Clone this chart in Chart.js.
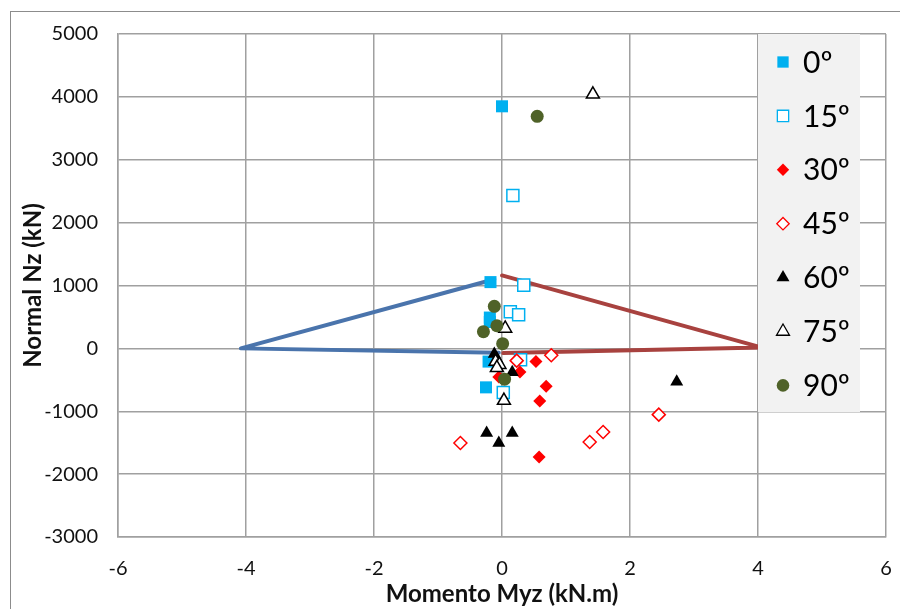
<!DOCTYPE html>
<html>
<head>
<meta charset="utf-8">
<script src="https://cdn.jsdelivr.net/npm/chart.js@4"></script>
<style>
  html, body { margin: 0; padding: 0; background: #fff; overflow: hidden; }
  canvas { display: block; }
</style>
</head>
<body>
<canvas id="chart" width="900" height="609"></canvas>
<script>
// Valores (Myz em kN.m, Nz em kN)

const labels = ['0º', '15º', '30º', '45º', '60º', '75º', '90º']

const s0 = [[0.0, 3850], [-0.18, 1054], [-0.19, 490], [-0.19, 420], [-0.21, -210], [-0.25, -620]]
const s15 = [[0.17, 2430], [0.34, 1006], [0.13, 583], [0.26, 535], [0.29, -180], [0.02, -700]]
const s30 = [[0.53, -210], [0.28, -376], [-0.05, -456], [0.69, -604], [0.59, -837], [0.58, -1728]]
const s45 = [[0.23, -195], [0.77, -110], [-0.65, -1505], [1.37, -1489], [1.58, -1330], [2.45, -1054]]
const s60 = [[-0.12, -90], [-0.08, -170], [0.16, -380], [2.73, -530], [-0.24, -1346], [0.16, -1346], [-0.05, -1505]]
const s75 = [[1.42, 4040], [0.05, 318], [-0.1, -210], [-0.04, -260], [-0.08, -310], [0.03, -830]]
const s90 = [[0.55, 3690], [-0.12, 668], [-0.08, 360], [-0.29, 265], [0.01, 75], [0.04, -490]]

// Envoltória (duas linhas)
const envLeft = [[-0.12, 1100], [-4.08, 0], [-0.05, -70]]
const envRight = [[0.0, 1160], [4.05, 15], [0.02, -75]]

const xTicks = [-6, -4, -2, 0, 2, 4, 6]
const yTicks = [-3000, -2000, -1000, 0, 1000, 2000, 3000, 4000, 5000]

const toPts = arr => arr.map(p => ({ x: p[0], y: p[1] }))

// estilo de cada série: [pointStyle, radius, cor, preenchido]
const styles = [
  ['rect', 8.5, '#00B0F0', true],
  ['rect', 8.5, '#00B0F0', false],
  ['rectRot', 6.5, '#FF0000', true],
  ['rectRot', 6.5, '#FF0000', false],
  ['triangle', 7.5, '#000000', true],
  ['triangle', 7.5, '#000000', false],
  ['circle', 6.5, '#4F6228', true],
]
const legendRadius = [8, 8, 6.2, 6.2, 7.5, 7.5, 6.3]

const series = [s0, s15, s30, s45, s60, s75, s90]

const datasets = series.map((s, i) => {
  const st = styles[i]
  return {
    label: labels[i],
    data: toPts(s),
    pointStyle: st[0],
    pointRadius: st[1],
    pointHoverRadius: st[1],
    backgroundColor: st[3] ? st[2] : '#ffffff',
    borderColor: st[2],
    pointBorderWidth: st[3] ? 0 : 1.5,
    showLine: false,
    order: 6 - i,
  }
})

datasets.push({
  label: 'envLeft',
  data: toPts(envLeft),
  showLine: true,
  borderColor: '#4A74AC',
  borderWidth: 4,
  borderJoinStyle: 'round',
  borderCapStyle: 'round',
  pointRadius: 0,
  order: 100,
})
datasets.push({
  label: 'envRight',
  data: toPts(envRight),
  showLine: true,
  borderColor: '#A8423F',
  borderWidth: 4,
  borderJoinStyle: 'round',
  borderCapStyle: 'round',
  pointRadius: 0,
  order: 100,
})

// moldura externa
const frame = {
  id: 'frame',
  beforeDraw(chart) {
    const ctx = chart.ctx
    ctx.save()
    ctx.fillStyle = '#ffffff'
    ctx.fillRect(0, 0, chart.width, chart.height)
    ctx.strokeStyle = '#8c8c8c'
    ctx.lineWidth = 1
    ctx.strokeRect(10.5, 11.5, chart.width + 20, chart.height + 20)
    ctx.restore()
  }
}

// legenda dentro da área do gráfico
const legendBox = {
  id: 'legendBox',
  afterDatasetsDraw(chart) {
    const ctx = chart.ctx
    const area = chart.chartArea
    const left = area.right - 128
    const top = area.top
    ctx.save()
    ctx.fillStyle = '#f2f2f2'
    ctx.fillRect(left, top, 102, 378)
    ctx.font = '30px Lato'
    ctx.textBaseline = 'middle'
    for (let i = 0; i < labels.length; i++) {
      const st = styles[i]
      const y = top + 28 + i * 53.9
      ctx.fillStyle = st[3] ? st[2] : '#ffffff'
      ctx.strokeStyle = st[2]
      ctx.lineWidth = st[3] ? 0 : 1.3
      Chart.helpers.drawPoint(ctx, {
        pointStyle: st[0],
        radius: legendRadius[i],
        rotation: 0,
        borderWidth: st[3] ? 0 : 1.3,
      }, left + 25, y)
      ctx.fillStyle = '#000000'
      ctx.fillText(labels[i], left + 45, y + 1)
    }
    ctx.restore()
  }
}

let ctxChart = document.getElementById('chart')

new Chart(ctxChart, {
  type: 'scatter',
  data: { datasets: datasets },
  plugins: [frame, legendBox],
  options: {
    responsive: false,
    animation: false,
    layout: {
      padding: { left: 0, right: 14, top: 34, bottom: 0 }
    },
    plugins: {
      legend: { display: false },
      tooltip: { enabled: false },
    },
    scales: {
      x: {
        type: 'linear',
        min: -6,
        max: 6,
        afterBuildTicks: scale => { scale.ticks = xTicks.map(v => ({ value: v })) },
        afterFit: scale => {
          scale.height = 72
          scale.paddingLeft = 0
          scale.paddingRight = 0
        },
        grid: { color: '#a0a0a0', lineWidth: 1.5, drawTicks: false },
        border: { color: '#a0a0a0', width: 1.5 },
        ticks: { color: '#111', font: { family: 'Lato', size: 20 }, padding: 20, callback: v => String(v) },
        title: {
          display: true,
          text: 'Momento Myz (kN.m)',
          color: '#111',
          font: { family: 'Lato', size: 24, weight: 'bold' },
          padding: { top: 0, bottom: 0 },
        },
      },
      y: {
        type: 'linear',
        min: -3000,
        max: 5000,
        afterBuildTicks: scale => { scale.ticks = yTicks.map(v => ({ value: v })) },
        afterFit: scale => { scale.width = 118 },
        grid: { color: '#a0a0a0', lineWidth: 1.5, drawTicks: false },
        border: { color: '#a0a0a0', width: 1.5 },
        ticks: { color: '#111', font: { family: 'Lato', size: 20 }, padding: 20, callback: v => String(v) },
        title: {
          display: true,
          text: 'Normal Nz (kN)',
          color: '#111',
          font: { family: 'Lato', size: 24, weight: 'bold' },
          padding: { top: 19, bottom: 0 },
        },
      },
    }
  }
});
</script>
</body>
</html>
